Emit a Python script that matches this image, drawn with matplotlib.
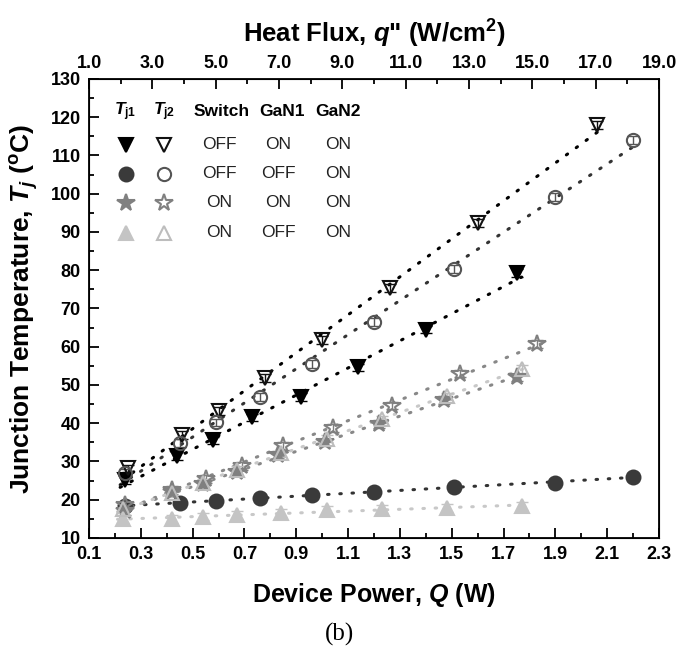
import numpy as np
import matplotlib
matplotlib.use("Agg")
import matplotlib.pyplot as plt
from matplotlib.ticker import MultipleLocator, FixedLocator

plt.rcParams['font.family'] = ['Liberation Sans', 'DejaVu Sans']
plt.rcParams['mathtext.fontset'] = 'custom'
plt.rcParams['mathtext.rm'] = 'Liberation Sans:bold'
plt.rcParams['mathtext.bf'] = 'Liberation Sans:bold'
plt.rcParams['mathtext.it'] = 'Liberation Sans:italic:bold'

# ---- data ----
# Switch OFF, GaN1 ON, GaN2 ON
q_a1 = [0.24, 0.44, 0.58, 0.73, 0.92, 1.14, 1.40, 1.75]
t_a1 = [25.2, 31.5, 35.5, 41.5, 46.8, 54.6, 64.5, 79.3]
q_a2 = [0.25, 0.46, 0.60, 0.78, 1.00, 1.26, 1.60, 2.06]
t_a2 = [28.2, 36.9, 43.2, 51.8, 61.8, 75.3, 92.4, 118.0]
# Switch OFF, GaN1 OFF, GaN2 ON
q_b1 = [0.24, 0.45, 0.59, 0.76, 0.96, 1.20, 1.51, 1.90, 2.20]
t_b1 = [18.4, 19.2, 19.8, 20.4, 21.3, 22.0, 23.2, 24.5, 26.0]
q_b2 = [0.24, 0.45, 0.59, 0.76, 0.96, 1.20, 1.51, 1.90, 2.20]
t_b2 = [27.0, 34.8, 40.2, 46.9, 55.5, 66.5, 80.4, 99.2, 114.0]
# Switch ON, GaN1 ON, GaN2 ON
q_c1 = [0.24, 0.42, 0.54, 0.67, 0.83, 1.01, 1.22, 1.47, 1.75]
t_c1 = [17.0, 22.0, 24.2, 27.2, 31.8, 35.0, 39.8, 46.0, 52.0]
q_c2 = [0.24, 0.42, 0.55, 0.69, 0.85, 1.04, 1.27, 1.53, 1.83]
t_c2 = [18.5, 22.5, 25.4, 28.8, 34.0, 38.7, 44.6, 53.0, 60.7]
# Switch ON, GaN1 OFF, GaN2 ON
q_d1 = [0.23, 0.42, 0.54, 0.67, 0.84, 1.02, 1.23, 1.48, 1.77]
t_d1 = [15.0, 15.0, 15.6, 16.0, 16.5, 17.3, 17.5, 17.8, 18.4]
q_d2 = [0.23, 0.42, 0.54, 0.67, 0.84, 1.02, 1.23, 1.48, 1.77]
t_d2 = [17.5, 21.8, 24.5, 27.8, 32.3, 36.0, 41.0, 47.0, 54.2]

err = 1.0

legend_rows = [["OFF", "ON", "ON"], ["OFF", "OFF", "ON"], ["ON", "ON", "ON"], ["ON", "OFF", "ON"]]
legend_head = [r"$T_{\rm j1}$", r"$T_{\rm j2}$", "Switch", "GaN1", "GaN2"]

x_ticks = [0.1, 0.3, 0.5, 0.7, 0.9, 1.1, 1.3, 1.5, 1.7, 1.9, 2.1, 2.3]
top_ticks = [1.0, 3.0, 5.0, 7.0, 9.0, 11.0, 13.0, 15.0, 17.0, 19.0]

# ---- styles ----
styles = [
    # (q, t, marker, face, edge, ms, line color)
    (q_a1, t_a1, 'v', '#000000', '#000000', 10.5, '#000000'),
    (q_a2, t_a2, 'v', 'none', '#111111', 10.5, '#000000'),
    (q_b1, t_b1, 'o', '#3a3a3a', '#3a3a3a', 10, '#333333'),
    (q_b2, t_b2, 'o', 'none', '#555555', 9.5, '#333333'),
    (q_c1, t_c1, '*', '#808080', '#808080', 13, '#888888'),
    (q_c2, t_c2, '*', 'none', '#808080', 13, '#888888'),
    (q_d1, t_d1, '^', '#c4c4c4', '#c4c4c4', 10.5, '#c8c8c8'),
    (q_d2, t_d2, '^', 'none', '#bdbdbd', 10.5, '#c8c8c8'),
]

fig = plt.figure(figsize=(6.78, 6.56), dpi=100)
ax = fig.add_axes([0.1313, 0.1799, 0.8407, 0.6997])

for q, t, m, fc, ec, ms, lc in styles:
    q = np.array(q); t = np.array(t)
    p = np.polyfit(q, t, 1)
    xs = np.linspace(q.min() - 0.02, q.max() + 0.02, 50)
    ax.plot(xs, np.polyval(p, xs), linestyle=(0, (0.5, 3.5)), color=lc,
            lw=2.2, dash_capstyle='round', zorder=2)
    ax.errorbar(q, t, yerr=err, fmt='none', ecolor=ec, elinewidth=1.0,
                capsize=4, capthick=1.0, zorder=3)
    ax.plot(q, t, linestyle='none', marker=m, markersize=ms,
            markerfacecolor=fc, markeredgecolor=ec, markeredgewidth=1.5, zorder=4)

ax.set_xlim(0.1, 2.3)
ax.set_ylim(10, 130)
ax.xaxis.set_major_locator(FixedLocator(x_ticks))
ax.set_xticklabels([f"{v:.1f}" for v in x_ticks])
ax.xaxis.set_minor_locator(MultipleLocator(0.1))
ax.yaxis.set_major_locator(MultipleLocator(10))
ax.yaxis.set_minor_locator(MultipleLocator(5))
ax.tick_params(which='both', direction='in', width=1.3, right=False, top=False)
ax.tick_params(which='major', length=7, labelsize=13, pad=6)
ax.tick_params(which='minor', length=3.5)
for lab in ax.get_xticklabels() + ax.get_yticklabels():
    lab.set_fontweight('bold')
for s in ax.spines.values():
    s.set_linewidth(1.3)

ax.set_xlabel(r"Device Power, $Q$ (W)", fontsize=18, fontweight='bold', labelpad=13)
ax.set_ylabel(r"Junction Temperature, $T_j$ ($^{\rm o}$C)", fontsize=19,
              fontweight='bold', labelpad=7)

ax2 = ax.twiny()
ax2.set_xlim(1.0, 19.0)
ax2.xaxis.set_major_locator(FixedLocator(top_ticks))
ax2.set_xticklabels([f"{v:.1f}" for v in top_ticks])
ax2.xaxis.set_minor_locator(MultipleLocator(1.0))
ax2.tick_params(which='both', direction='in', width=1.3)
ax2.tick_params(which='major', length=7, labelsize=13, pad=5)
ax2.tick_params(which='minor', length=3.5)
for lab in ax2.get_xticklabels():
    lab.set_fontweight('bold')
ax2.set_xlabel(r'Heat Flux, $q$" (W/cm$^{2}$)', fontsize=18.5, fontweight='bold', labelpad=9)

# ---- manual legend (axes coordinates) ----
def ax_xy(px, py):
    return ((px - 89) / 570.0, (538 - py) / 459.0)

head_x = [125, 164, 222, 282, 338]
for hx, txt in zip(head_x, legend_head):
    x, y = ax_xy(hx, 112)
    ax.text(x, y, txt, transform=ax.transAxes, ha='center', va='center',
            fontsize=12.5, fontweight='bold')

row_y = [145, 174, 203, 233]
for i, ry in enumerate(row_y):
    s1 = styles[2 * i]; s2 = styles[2 * i + 1]
    for (px, s) in ((126, s1), (164, s2)):
        x, y = ax_xy(px, ry)
        ax.plot([x], [y], transform=ax.transAxes, marker=s[2], markersize=s[5],
                markerfacecolor=s[3], markeredgecolor=s[4], markeredgewidth=1.5,
                linestyle='none', clip_on=False)
    for px, txt in zip([219, 278, 338], legend_rows[i]):
        x, y = ax_xy(px, ry)
        ax.text(x, y, txt, transform=ax.transAxes, ha='center', va='center',
                fontsize=12.5, color='#222222')

fig.text(339 / 678, 1 - 634 / 656, "(b)", ha='center', va='center', fontsize=18,
         family='Liberation Serif')

fig.savefig("out.png", dpi=100)
